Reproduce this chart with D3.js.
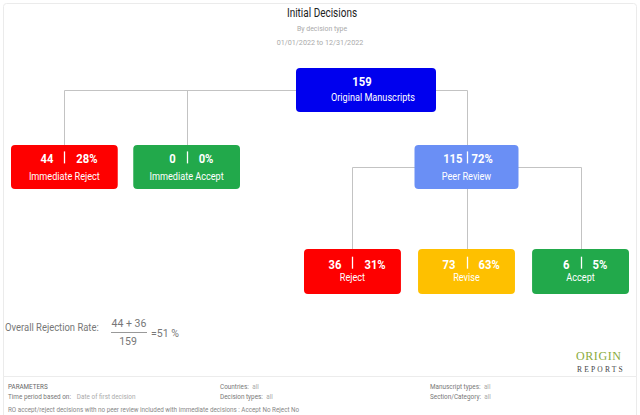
<!DOCTYPE html>
<html><head><meta charset="utf-8">
<script src="https://cdn.jsdelivr.net/npm/d3@7/dist/d3.min.js"></script>
<style>
html,body{margin:0;padding:0;background:#fff;overflow:hidden;}
svg{display:block;font-family:Roboto,"Noto Sans",sans-serif;}
</style></head><body>
<svg id="chart" width="640" height="415"></svg>
<script>
// ---------------- DATA ----------------
const nodeIds      = ["root", "immReject", "immAccept", "peer", "reject", "revise", "accept"];
const nodeParents  = ["", "root", "root", "root", "peer", "peer", "peer"];
const nodeLabels   = ["Original Manuscripts", "Immediate Reject", "Immediate Accept", "Peer Review", "Reject", "Revise", "Accept"];
const nodeCounts   = [159, 44, 0, 115, 36, 73, 6];
const nodePercents = [null, 28, 0, 72, 31, 63, 5];
const nodeKinds    = ["total", "reject", "accept", "review", "reject", "revise", "accept"];

const titleText = "Initial Decisions";
const subtitleText = "By decision type";
const dateRangeText = "01/01/2022 to 12/31/2022";

const rejectionLabel = "Overall Rejection Rate:";
const rejectionNumerator = [44, 36];
const rejectionDenominator = 159;
const rejectionRate = 51;

const paramHeader = "PARAMETERS";
const paramLabels = ["Time period based on:", "Countries:", "Decision types:", "Manuscript types:", "Section/Category:"];
const paramValues = ["Date of first decision", "all", "all", "all", "all"];
const footnoteText = "RO accept/reject decisions with no peer review included with immediate decisions : Accept No Reject No";
const logoTop = "ORIGIN";
const logoBottom = "REPORTS";

// ---------------- STYLES / LAYOUT ----------------
const svg = d3.select("#chart");
const kindColor = d3.scaleOrdinal()
  .domain(["total", "reject", "accept", "review", "revise"])
  .range(["#0000ee", "#fe0000", "#22a94b", "#6a8ff5", "#fec000"]);

function stext(parent, x, y, str, o) {
  const g = parent.append("g").attr("transform", `translate(${x},${y}) scale(${o.sx || 1},1)`);
  const t = g.append("text")
    .attr("text-anchor", o.anchor || "start")
    .attr("font-size", o.size)
    .attr("font-weight", o.weight || 400)
    .attr("fill", o.fill || "#333")
    .text(str);
  if (o.family) t.attr("font-family", o.family);
  if (o.ls) t.attr("letter-spacing", o.ls);
  return t;
}

// frame
svg.append("rect").attr("x", 3.5).attr("y", 3.5).attr("width", 633).attr("height", 440)
  .attr("rx", 3).attr("fill", "none").attr("stroke", "#ebebeb");

// titles
stext(svg, 322, 17, titleText, {anchor: "middle", size: 12.5, fill: "#222", sx: 0.8});
stext(svg, 322, 31, subtitleText, {anchor: "middle", size: 8, fill: "#aaa", sx: 0.87});
stext(svg, 320, 45, dateRangeText, {anchor: "middle", size: 8, fill: "#aaa", sx: 0.9});

// hierarchy
const rows = nodeIds.map((id, i) => ({
  id, parent: nodeParents[i] || null, label: nodeLabels[i],
  count: nodeCounts[i], pct: nodePercents[i], kind: nodeKinds[i]
}));
const root = d3.stratify().id(d => d.id).parentId(d => d.parent)(rows);

const levelTop = d3.scaleOrdinal().domain([0, 1, 2]).range([68, 145, 249]);
const levelHeight = d3.scaleOrdinal().domain([0, 1, 2]).range([44, 44, 45]);

// level-2 boxes: band scale across the children of the reviewed branch
const branch = root.children.find(c => c.children);
const x2 = d3.scaleBand().domain(branch.children.map(c => c.id)).range([304, 629]).paddingInner(0.15);
branch.children.forEach(c => { c.bx = x2(c.id); c.bw = x2.bandwidth(); c.cx = c.bx + c.bw / 2; });

// level-1 leaf boxes: band scale
const leaves1 = root.children.filter(c => !c.children);
const x1 = d3.scaleBand().domain(leaves1.map(c => c.id)).range([11, 240]).paddingInner(0.127);
leaves1.forEach(c => { c.bx = x1(c.id); c.bw = x1.bandwidth(); c.cx = c.bx + c.bw / 2; });

// branch box centred over its children
branch.cx = d3.mean(branch.children, c => c.cx); branch.bw = 104; branch.bx = branch.cx - branch.bw / 2;
// root box
root.cx = 366; root.bw = 140; root.bx = root.cx - root.bw / 2;

root.each(n => { n.top = levelTop(n.depth); n.h = levelHeight(n.depth); n.mid = n.top + n.h / 2; });

// links
svg.append("g").selectAll("path").data(root.links()).join("path")
  .attr("d", l => `M${Math.round(l.source.cx) + 0.5},${Math.round(l.source.mid) + 0.5}H${Math.round(l.target.cx) + 0.5}V${l.target.top}`)
  .attr("fill", "none").attr("stroke", "#c3c3c3").attr("stroke-width", 1);

// boxes
const nodesG = svg.append("g");
root.each(n => {
  const g = nodesG.append("g");
  g.append("rect").attr("x", n.bx).attr("y", n.top).attr("width", n.bw).attr("height", n.h)
    .attr("rx", 4).attr("fill", kindColor(n.data.kind));
  const numBase = n.top + (n.depth === 2 ? 19.7 : 18.4);
  const labBase = n.top + (n.depth === 0 ? 32.5 : n.depth === 1 ? 35 : 31.8);
  if (n.data.pct === null) {
    stext(g, n.cx - 4, numBase, n.data.count, {anchor: "middle", size: 12.5, weight: 700, fill: "#fff", sx: 0.9});
    stext(g, n.cx + 7, labBase, n.data.label, {anchor: "middle", size: 10.5, fill: "#fff", sx: 0.87});
  } else {
    const gap = n.data.count >= 100 ? 4 : 11;
    stext(g, n.cx - gap, numBase, n.data.count, {anchor: "end", size: 12.5, weight: 700, fill: "#fff", sx: 0.9});
    stext(g, n.cx + gap + 1, numBase, n.data.pct + "%", {anchor: "start", size: 12.5, weight: 700, fill: "#fff", sx: 0.9});
    g.append("line").attr("x1", Math.round(n.cx) + 0.5).attr("x2", Math.round(n.cx) + 0.5)
      .attr("y1", numBase - 12).attr("y2", numBase).attr("stroke", "#fff").attr("stroke-width", 1.3);
    stext(g, n.cx, labBase, n.data.label, {anchor: "middle", size: 10.5, fill: "#fff", sx: 0.87});
  }
});

// overall rejection rate
stext(svg, 5, 331, rejectionLabel, {size: 10.5, fill: "#777", sx: 0.9});
stext(svg, 129, 327, rejectionNumerator.join(" + "), {anchor: "middle", size: 10.5, fill: "#777"});
svg.append("line").attr("x1", 111).attr("x2", 147).attr("y1", 332.5).attr("y2", 332.5).attr("stroke", "#999");
stext(svg, 128, 345, rejectionDenominator, {anchor: "middle", size: 10.5, fill: "#777"});
stext(svg, 151, 337, "=" + rejectionRate + " %", {size: 10.5, fill: "#777"});

// logo
stext(svg, 576, 360, logoTop, {size: 12, fill: "#8aab3c", family: "'Liberation Serif', serif", ls: 0.6});
stext(svg, 577, 372, logoBottom, {size: 7.5, fill: "#444", family: "'Liberation Serif', serif", ls: 2.2});

// footer
svg.append("line").attr("x1", 3.5).attr("x2", 636.5).attr("y1", 376.5).attr("y2", 376.5).attr("stroke", "#ececec");
stext(svg, 8, 389, paramHeader, {size: 7, fill: "#666", sx: 0.9});
const paramPos = [[8, 398.5], [220, 389], [220, 398.5], [430, 389], [430, 398.5]];
paramLabels.forEach((lab, i) => {
  const t = stext(svg, paramPos[i][0], paramPos[i][1], null, {size: 7.5, fill: "#777", sx: 0.85});
  t.append("tspan").text(lab);
  t.append("tspan").attr("dx", i === 0 ? 7 : 4).attr("fill", "#aaa").text(paramValues[i]);
});
stext(svg, 8, 412, footnoteText, {size: 7, fill: "#888", sx: 0.9});
</script>
</body></html>
